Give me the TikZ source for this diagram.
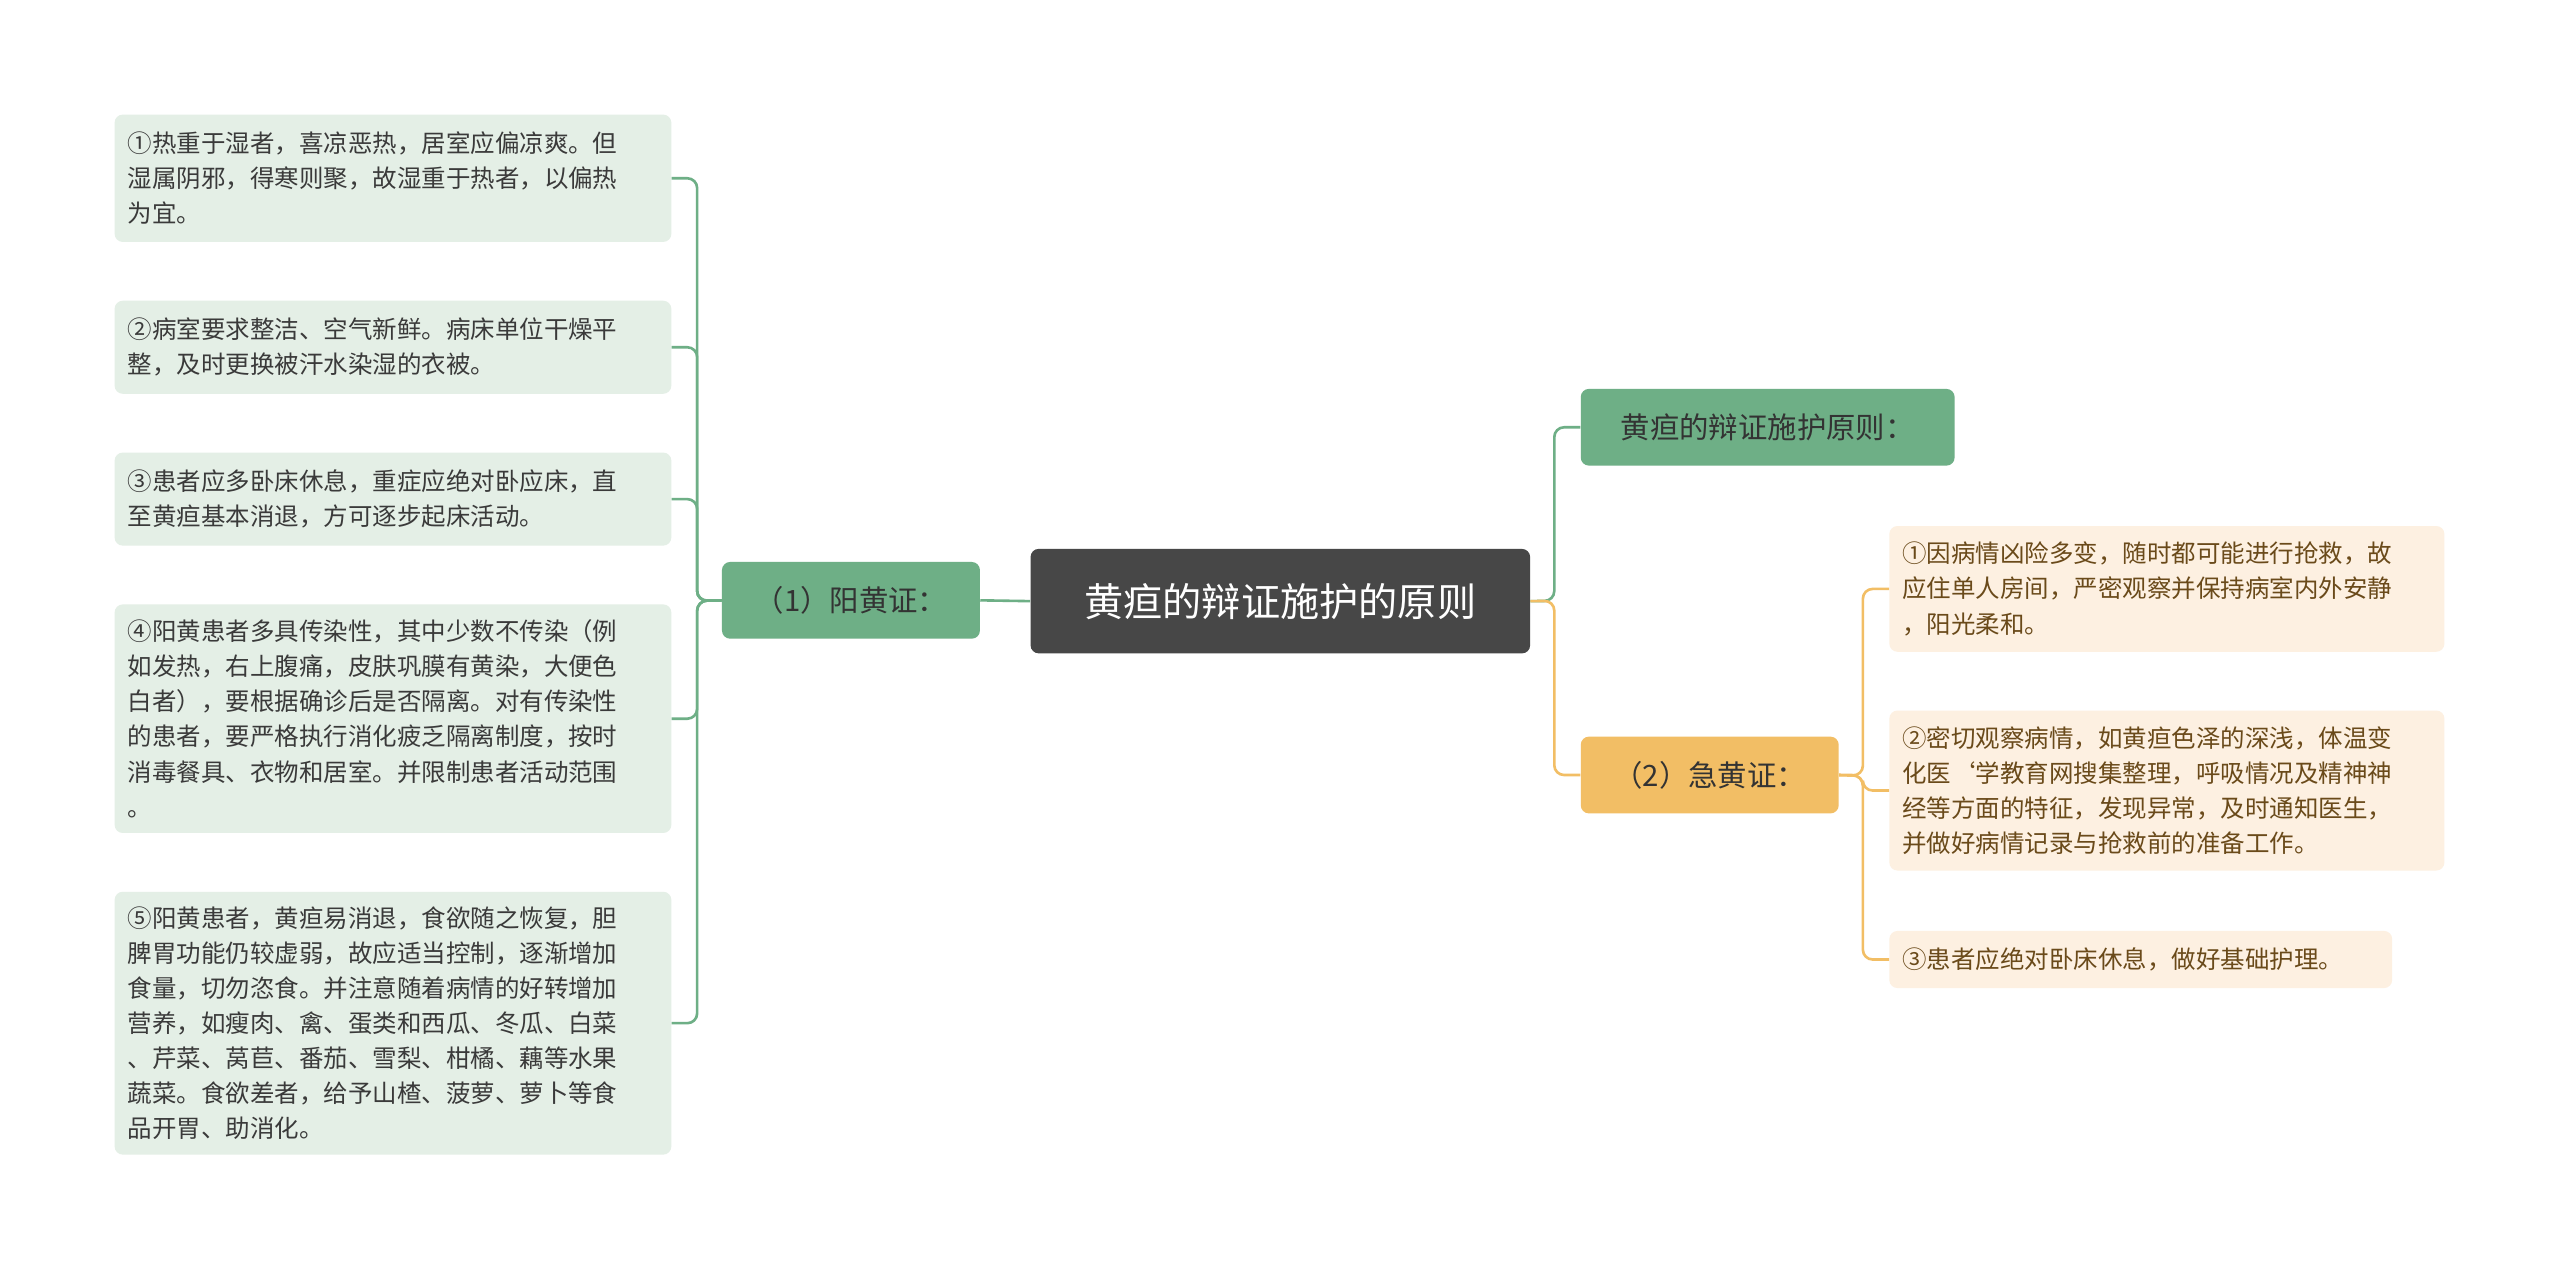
\documentclass[tikz,border=0pt]{standalone}
\usepackage{fontspec}
\setmainfont{Noto Sans CJK SC}
\begin{document}
\begin{tikzpicture}[x=1pt,y=-1pt,
  gline/.style={draw=lgreen,line width=1.6pt,rounded corners=6pt},
  oline/.style={draw=lorange,line width=1.6pt,rounded corners=6pt},
  leafL/.style={fill=leafg,rounded corners=5pt,inner xsep=8pt,inner ysep=0pt,align=left,text=txtL,font=\fontsize{15}{21.5}\selectfont,anchor=north west},
  leafR/.style={fill=leafo,rounded corners=5pt,inner xsep=8pt,inner ysep=0pt,align=left,text=txtR,font=\fontsize{15}{21.5}\selectfont,anchor=north west},
  mid/.style={rounded corners=5pt,inner sep=0pt,font=\fontsize{18}{22}\selectfont,text=txtM,anchor=north west}]
\definecolor{lgreen}{HTML}{6EAF86}
\definecolor{lorange}{HTML}{F2BE65}
\definecolor{leafg}{HTML}{E4EFE6}
\definecolor{leafo}{HTML}{FDF0E1}
\definecolor{txtL}{HTML}{3A3A3A}
\definecolor{txtR}{HTML}{6A4A1A}
\definecolor{txtM}{HTML}{333333}
\useasboundingbox[fill=white] (0,0) rectangle (1568,778);
% root
\node[fill=black!72,rounded corners=5pt,inner sep=0pt,minimum width=306pt,minimum height=64pt,anchor=north west,text=white,font=\fontsize{24}{28}\selectfont] (root) at (631,336) {黄疸的辩证施护的原则};
% level 1
\node[mid,fill=lgreen,minimum width=158pt,minimum height=47pt] (yang) at (442,344) {（1）阳黄证：};
\node[mid,fill=lgreen,minimum width=229pt,minimum height=47pt] (prin) at (968,238) {黄疸的辩证施护原则：};
\node[mid,fill=lorange,minimum width=158pt,minimum height=47pt] (ji) at (968,451) {（2）急黄证：};
% left leaves
\node[leafL,minimum width=341pt,minimum height=78pt,text width=325pt] (a1) at (70,70) {①热重于湿者，喜凉恶热，居室应偏凉爽。但\\湿属阴邪，得寒则聚，故湿重于热者，以偏热\\为宜。};
\node[leafL,minimum width=341pt,minimum height=57pt,text width=325pt] (a2) at (70,184) {②病室要求整洁、空气新鲜。病床单位干燥平\\整，及时更换被汗水染湿的衣被。};
\node[leafL,minimum width=341pt,minimum height=57pt,text width=325pt] (a3) at (70,277) {③患者应多卧床休息，重症应绝对卧应床，直\\至黄疸基本消退，方可逐步起床活动。};
\node[leafL,minimum width=341pt,minimum height=140pt,text width=325pt] (a4) at (70,370) {④阳黄患者多具传染性，其中少数不传染（例\\如发热，右上腹痛，皮肤巩膜有黄染，大便色\\白者），要根据确诊后是否隔离。对有传染性\\的患者，要严格执行消化疲乏隔离制度，按时\\消毒餐具、衣物和居室。并限制患者活动范围\\。};
\node[leafL,minimum width=341pt,minimum height=161pt,text width=325pt] (a5) at (70,546) {⑤阳黄患者，黄疸易消退，食欲随之恢复，胆\\脾胃功能仍较虚弱，故应适当控制，逐渐增加\\食量，切勿恣食。并注意随着病情的好转增加\\营养，如瘦肉、禽、蛋类和西瓜、冬瓜、白菜\\、芹菜、莴苣、番茄、雪梨、柑橘、藕等水果\\蔬菜。食欲差者，给予山楂、菠萝、萝卜等食\\品开胃、助消化。};
% right leaves
\node[leafR,minimum width=340pt,minimum height=77pt,text width=324pt] (b1) at (1157,322) {①因病情凶险多变，随时都可能进行抢救，故\\应住单人房间，严密观察并保持病室内外安静\\，阳光柔和。};
\node[leafR,minimum width=340pt,minimum height=98pt,text width=324pt] (b2) at (1157,435) {②密切观察病情，如黄疸色泽的深浅，体温变\\化医{\char96}学教育网搜集整理，呼吸情况及精神神\\经等方面的特征，发现异常，及时通知医生，\\并做好病情记录与抢救前的准备工作。};
\node[leafR,minimum width=308pt,minimum height=35pt,text width=292pt] (b3) at (1157,570) {③患者应绝对卧床休息，做好基础护理。};
% connectors
\draw[gline] (root.west) -- (yang.east);
\foreach \n in {a1,a2,a3,a4,a5}{\draw[gline] (yang.west) -- (427,368) |- (\n.east);}
\draw[gline] (root.east) -- (952,368) |- (prin.west);
\draw[oline] (root.east) -- (952,368) |- (ji.west);
\foreach \n in {b1,b2,b3}{\draw[oline] (ji.east) -- (1141,475) |- (\n.west);}
\end{tikzpicture}
\end{document}
